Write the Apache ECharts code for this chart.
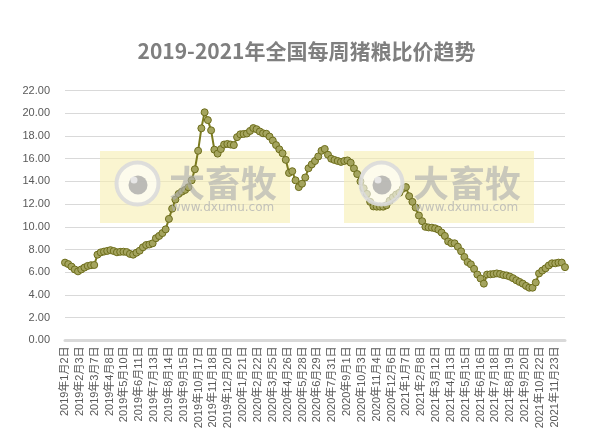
<!DOCTYPE html>
<html>
<head>
<meta charset="utf-8">
<script src="https://cdn.jsdelivr.net/npm/echarts@6/dist/echarts.min.js"></script>
<style>
html,body{margin:0;padding:0;background:#fff;}
#c{width:613px;height:438px;}
</style>
</head>
<body>
<div id="c"></div>
<script>
// Weekly dates (Wednesdays)
const dates = [
'2019-01-02','2019-01-09','2019-01-16','2019-01-23','2019-01-30','2019-02-06','2019-02-13','2019-02-20','2019-02-27',
'2019-03-06','2019-03-13','2019-03-20','2019-03-27','2019-04-03','2019-04-10','2019-04-17','2019-04-24',
'2019-05-01','2019-05-08','2019-05-15','2019-05-22','2019-05-29','2019-06-05','2019-06-12','2019-06-19','2019-06-26',
'2019-07-03','2019-07-10','2019-07-17','2019-07-24','2019-07-31','2019-08-07','2019-08-14','2019-08-21','2019-08-28',
'2019-09-04','2019-09-11','2019-09-18','2019-09-25','2019-10-02','2019-10-09','2019-10-16','2019-10-23','2019-10-30',
'2019-11-06','2019-11-13','2019-11-20','2019-11-27','2019-12-04','2019-12-11','2019-12-18','2019-12-25',
'2020-01-01','2020-01-08','2020-01-15','2020-01-22','2020-01-29','2020-02-05','2020-02-12','2020-02-19','2020-02-26',
'2020-03-04','2020-03-11','2020-03-18','2020-03-25','2020-04-01','2020-04-08','2020-04-15','2020-04-22','2020-04-29',
'2020-05-06','2020-05-13','2020-05-20','2020-05-27','2020-06-03','2020-06-10','2020-06-17','2020-06-24',
'2020-07-01','2020-07-08','2020-07-15','2020-07-22','2020-07-29','2020-08-05','2020-08-12','2020-08-19','2020-08-26',
'2020-09-02','2020-09-09','2020-09-16','2020-09-23','2020-09-30','2020-10-07','2020-10-14','2020-10-21','2020-10-28',
'2020-11-04','2020-11-11','2020-11-18','2020-11-25','2020-12-02','2020-12-09','2020-12-16','2020-12-23','2020-12-30',
'2021-01-06','2021-01-13','2021-01-20','2021-01-27','2021-02-03','2021-02-10','2021-02-17','2021-02-24',
'2021-03-03','2021-03-10','2021-03-17','2021-03-24','2021-03-31','2021-04-07','2021-04-14','2021-04-21','2021-04-28',
'2021-05-05','2021-05-12','2021-05-19','2021-05-26','2021-06-02','2021-06-09','2021-06-16','2021-06-23','2021-06-30',
'2021-07-07','2021-07-14','2021-07-21','2021-07-28','2021-08-04','2021-08-11','2021-08-18','2021-08-25',
'2021-09-01','2021-09-08','2021-09-15','2021-09-22','2021-09-29','2021-10-06','2021-10-13','2021-10-20','2021-10-27',
'2021-11-03','2021-11-10','2021-11-17','2021-11-24','2021-12-01','2021-12-08','2021-12-15'
];

// Pig-grain price ratio
const ratio = [
6.85,6.72,6.50,6.25,6.08,6.25,6.42,6.56,6.62,
6.64,7.55,7.75,7.82,7.88,7.95,7.87,7.76,
7.80,7.81,7.78,7.62,7.55,7.72,7.90,8.20,8.40,
8.45,8.55,9.00,9.20,9.45,9.78,10.70,11.60,12.40,
12.90,13.10,13.25,13.49,14.10,15.07,16.70,18.68,20.09,
19.40,18.50,16.80,16.45,16.85,17.25,17.30,17.25,
17.20,17.90,18.15,18.18,18.22,18.45,18.70,18.60,18.40,
18.24,18.20,17.95,17.60,17.20,16.83,16.48,15.90,14.75,
14.90,14.10,13.50,13.80,14.35,15.16,15.50,15.80,
16.20,16.70,16.86,16.35,16.00,15.89,15.80,15.72,15.80,
15.85,15.65,15.15,14.65,14.00,13.40,12.90,12.20,11.80,
11.78,11.78,11.78,11.90,12.30,12.60,12.85,13.00,13.35,
13.50,12.70,12.20,11.70,11.00,10.50,10.00,9.95,
9.93,9.87,9.75,9.50,9.20,8.72,8.56,8.55,8.25,
7.85,7.35,6.90,6.70,6.30,5.80,5.45,5.00,5.80,
5.82,5.85,5.90,5.85,5.76,5.72,5.62,5.48,
5.30,5.15,5.00,4.80,4.64,4.64,5.10,5.90,6.15,
6.35,6.60,6.79,6.79,6.85,6.85,6.45
];

// X tick labels (every 32 days from the first date)
const xTickLabels = [
'2019年1月2日','2019年2月3日','2019年3月7日','2019年4月8日','2019年5月10日','2019年6月11日',
'2019年7月13日','2019年8月14日','2019年9月15日','2019年10月17日','2019年11月18日','2019年12月20日',
'2020年1月21日','2020年2月22日','2020年3月25日','2020年4月26日','2020年5月28日','2020年6月29日',
'2020年7月31日','2020年9月1日','2020年10月3日','2020年11月4日','2020年12月6日','2021年1月7日',
'2021年2月8日','2021年3月12日','2021年4月13日','2021年5月15日','2021年6月16日','2021年7月18日',
'2021年8月19日','2021年9月20日','2021年10月22日','2021年11月23日'
];

const titleText = '2019-2021年全国每周猪粮比价趋势';
const tickStepDays = 32;

const day0 = Date.parse(dates[0]);
const dayOf = d => Math.round((Date.parse(d) - day0) / 86400000);
const seriesData = dates.map((d, i) => [dayOf(d), ratio[i]]);
const lastDay = dayOf(dates[dates.length - 1]);

const FONT = '"Liberation Sans", "Noto Sans CJK SC", sans-serif';

function watermark(x0) {
  const y0 = 151;
  return [
    { type: 'rect', z: 1, silent: true,
      shape: { x: x0, y: y0, width: 190, height: 72 },
      style: { fill: 'rgba(246,238,176,0.6)' } },
    { type: 'circle', z: 100, silent: true,
      shape: { cx: x0 + 37.5, cy: y0 + 32.5, r: 21 },
      style: { fill: 'rgba(255,255,255,0.6)', stroke: 'rgba(218,218,218,0.9)', lineWidth: 4 } },
    { type: 'circle', z: 101, silent: true,
      shape: { cx: x0 + 38, cy: y0 + 34, r: 9.5 },
      style: { fill: 'rgba(165,165,165,0.75)' } },
    { type: 'circle', z: 102, silent: true,
      shape: { cx: x0 + 34, cy: y0 + 29, r: 3.5 },
      style: { fill: 'rgba(235,235,235,0.9)' } },
    { type: 'text', z: 100, silent: true, x: x0 + 69, y: y0 + 14,
      style: { text: '大畜牧', font: 'bold 36px "Noto Sans CJK SC"', fill: 'rgba(175,175,175,0.65)' } },
    { type: 'text', z: 100, silent: true, x: x0 + 71, y: y0 + 51,
      style: { text: 'www.dxumu.com', font: '12px "DejaVu Sans"', fill: 'rgba(180,180,180,0.8)' } }
  ];
}

const chart = echarts.init(document.getElementById('c'), null, { renderer: 'canvas' });
chart.setOption({
  animation: false,
  backgroundColor: '#ffffff',
  title: {
    text: titleText,
    left: 'center',
    top: 36,
    textStyle: { fontFamily: '"Noto Sans CJK SC", sans-serif', fontSize: 21, fontWeight: 'bold', color: '#7f7f7f' }
  },
  grid: { left: 65, right: 48, top: 90.6, bottom: 97.6, containLabel: false },
  xAxis: {
    type: 'value',
    min: 0,
    max: lastDay,
    interval: tickStepDays,
    splitLine: { show: false },
    axisTick: { show: false },
    axisLine: { show: true, onZero: false, lineStyle: { color: '#d9d9d9', width: 3 } },
    axisLabel: {
      rotate: 90,
      margin: 6,
      fontSize: 11,
      fontFamily: FONT,
      color: '#595959',
      showMaxLabel: false,
      formatter: v => (v % tickStepDays === 0 && xTickLabels[v / tickStepDays]) ? xTickLabels[v / tickStepDays] : ''
    }
  },
  yAxis: {
    type: 'value',
    min: 0,
    max: 22,
    interval: 2,
    axisLine: { show: false },
    axisTick: { show: false },
    splitLine: { lineStyle: { color: '#d9d9d9', width: 1 } },
    axisLabel: { fontSize: 11, fontFamily: FONT, color: '#595959', margin: 15, formatter: v => v.toFixed(2) }
  },
  series: [{
    type: 'line',
    data: seriesData,
    z: 5,
    symbol: 'circle',
    symbolSize: 7,
    lineStyle: { color: '#7b7b1f', width: 2 },
    itemStyle: { color: '#a4a45e', borderColor: '#6e6e1c', borderWidth: 1 }
  }],
  graphic: { elements: watermark(100).concat(watermark(344)) }
});
</script>
</body>
</html>
